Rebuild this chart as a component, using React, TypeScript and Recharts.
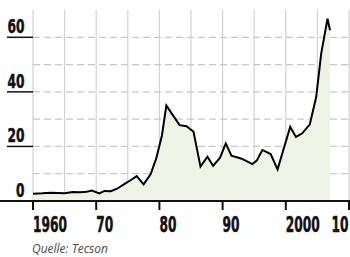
import React from "react";
import { ComposedChart, Area, XAxis, YAxis, CartesianGrid } from "recharts";

// Oil price (Dollar per barrel), positions in decimal years
const years = [
  1960.0, 1961.5, 1962.8, 1964.0, 1965.0, 1966.3, 1967.5, 1968.5, 1969.3, 1970.5,
  1971.3, 1972.3, 1973.3, 1974.5, 1975.5, 1976.4, 1977.5, 1978.6, 1979.5, 1980.4,
  1981.1, 1982.2, 1983.2, 1984.3, 1985.4, 1986.5, 1987.6, 1988.5, 1989.6, 1990.5,
  1991.4, 1992.9, 1993.8, 1994.7, 1995.4, 1996.3, 1997.6, 1998.7, 2000.7, 2001.6,
  2002.6, 2003.8, 2004.8, 2005.6, 2006.6, 2007.0,
];
const prices = [
  2.7, 2.8, 3.0, 2.9, 2.8, 3.3, 3.2, 3.4, 3.8, 2.8,
  3.7, 3.6, 4.5, 6.3, 7.7, 9.1, 6.1, 9.8, 15.6, 24.0,
  35.0, 31.2, 27.8, 27.4, 25.4, 12.6, 16.2, 12.9, 15.9, 21.1,
  16.6, 15.6, 14.6, 13.5, 14.8, 18.7, 17.2, 11.6, 27.2, 23.5,
  24.8, 28.1, 38.0, 54.0, 66.8, 62.6,
];

const xTicks = [1960, 1970, 1980, 1990, 2000, 2010];
const xTickLabels = ["1960", "70", "80", "90", "2000", "10"];
const xGrid = [1960, 1965, 1970, 1975, 1980, 1985, 1990, 1995, 2000, 2005, 2010];
const yTicks = [0, 20, 40, 60];
const yGrid = [10, 20, 30, 40, 50, 60];
const source = "Quelle: Tecson";

const data = years.map((y, i) => ({ year: y, price: prices[i] }));

const FONT = "'Liberation Sans Narrow', 'DejaVu Sans Condensed', 'Liberation Sans', sans-serif";

const XTick = (props: any) => {
  const { x, y, payload, index } = props;
  const label = xTickLabels[xTicks.indexOf(payload.value)] ?? String(payload.value);
  const isLast = index === xTicks.length - 1;
  return (
    <text
      x={isLast ? x - 0.5 : x}
      y={y + 20}
      textAnchor={isLast ? "end" : "start"}
      fontFamily={FONT}
      fontWeight="bold"
      fontSize={22}
      fill="#111"
      stroke="#111"
      strokeWidth={0.5}
      textLength={label.length * 8.5}
      lengthAdjust="spacingAndGlyphs"
    >
      {label}
    </text>
  );
};

const YTick = (props: any) => {
  const { y, payload } = props;
  const v = payload.value;
  const s = String(v);
  return (
    <g>
      {v === 0 ? (
        <line x1={0} x2={350} y1={y} y2={y} stroke="#111" strokeWidth={2} />
      ) : (
        <line x1={7} x2={33} y1={y} y2={y} stroke="#111" strokeWidth={1.5} />
      )}
      <text
        x={24.5}
        y={y - 4}
        textAnchor="end"
        fontFamily={FONT}
        fontWeight="bold"
        fontSize={19.5}
        fill="#111"
        stroke="#111"
        strokeWidth={0.5}
        textLength={s.length * 8.5}
        lengthAdjust="spacingAndGlyphs"
      >
        {s}
      </text>
    </g>
  );
};

export default function App() {
  return (
    <div style={{ position: "fixed", left: 0, top: 0, width: 350, height: 257, background: "#fff" }}>
      <ComposedChart
        width={350}
        height={257}
        data={data}
        margin={{ top: 10, right: 1, bottom: 26, left: 0 }}
      >
        <CartesianGrid
          horizontal={false}
          verticalValues={xGrid}
          stroke="#d2d2d8"
          strokeWidth={1.2}
        />
        <CartesianGrid
          vertical={false}
          horizontalValues={yGrid}
          stroke="#c8c8c8"
          strokeDasharray="7 4"
          strokeWidth={1.2}
        />
        <XAxis
          dataKey="year"
          type="number"
          domain={[1960, 2010]}
          ticks={xTicks}
          axisLine={false}
          tickLine={{ stroke: "#111", strokeWidth: 2 }}
          tickSize={9}
          height={30}
          tick={<XTick />}
          interval={0}
          allowDataOverflow
        />
        <YAxis
          type="number"
          domain={[0, 70]}
          ticks={yTicks}
          width={33}
          axisLine={false}
          tickLine={false}
          tick={<YTick />}
          interval={0}
        />
        <Area
          type="linear"
          dataKey="price"
          stroke="#000"
          strokeWidth={2}
          fill="#eef3e5"
          fillOpacity={1}
          isAnimationActive={false}
          dot={false}
          activeDot={false}
        />
      </ComposedChart>
      <div
        style={{
          position: "absolute",
          left: 32,
          top: 242,
          fontFamily: "'Open Sans', 'Noto Sans', sans-serif",
          fontStyle: "italic",
          fontSize: 12,
          color: "#4a4a4a",
          lineHeight: "13px",
          whiteSpace: "nowrap",
        }}
      >
        {source}
      </div>
    </div>
  );
}
